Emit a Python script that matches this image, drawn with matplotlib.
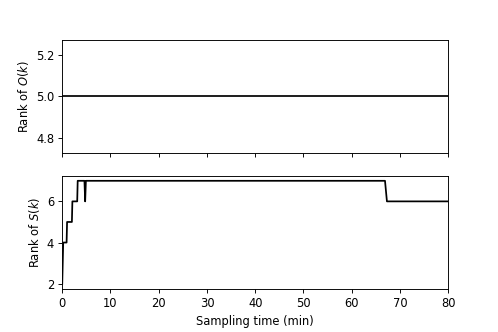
import numpy as np
import matplotlib
matplotlib.use('Agg')
import matplotlib.pyplot as plt

# Rang af O(k) - konstant
t_O = [0, 80]
rank_O = [5, 5]

# Rang af S(k) over samplingstid (min)
t_S = [0, 0.2, 0.9, 1.0, 2.0, 2.1, 3.1, 3.2, 4.6, 4.75, 4.9, 66.9, 67.3, 80]
rank_S = [2, 4, 4, 5, 5, 6, 6, 7, 7, 6, 7, 7, 6, 6]

fig, (ax1, ax2) = plt.subplots(2, 1, sharex=True, figsize=(6, 4), dpi=83)
fig.subplots_adjust(left=0.125, right=0.9, top=0.88, bottom=0.13, hspace=0.2)

ax1.plot(t_O, rank_O, 'k-', lw=1.5)
ax1.set_ylabel('Rank of $O(k)$')

ax2.plot(t_S, rank_S, 'k-', lw=1.5)
ax2.set_ylabel('Rank of $S(k)$')
ax2.set_xlabel('Sampling time (min)')
ax2.set_xlim(0, 80)

plt.savefig('out.png', dpi=83)
